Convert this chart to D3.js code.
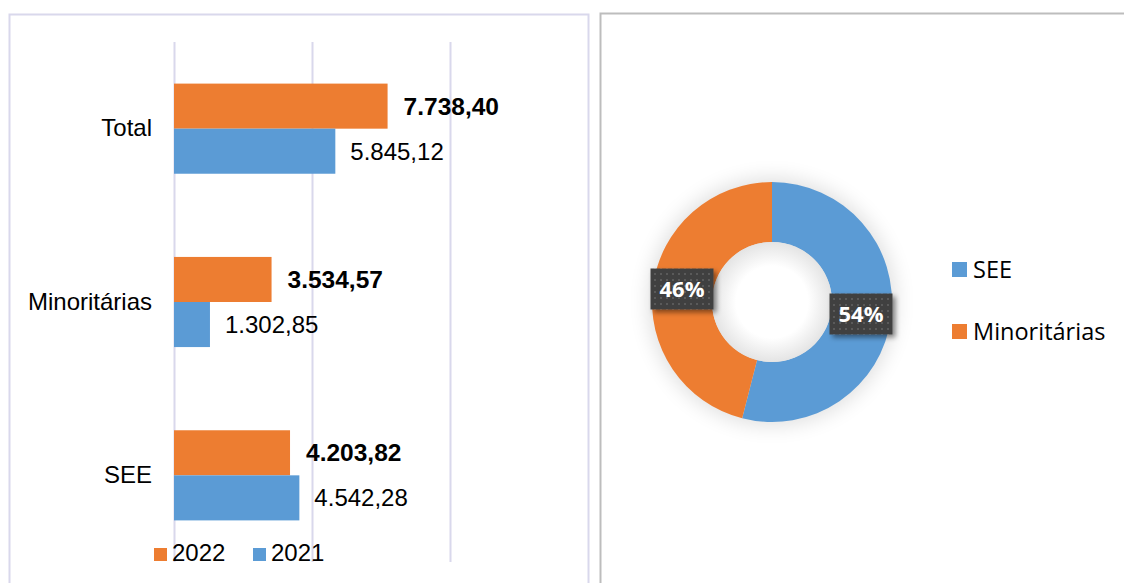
<!DOCTYPE html>
<html><head><meta charset="utf-8">
<script src="https://cdn.jsdelivr.net/npm/d3@7"></script>
<style>body{margin:0;background:#fff}svg{display:block}</style>
</head><body>
<svg id="c" width="1124" height="583"></svg>
<script>
const categories = ["Total", "Minoritárias", "SEE"];
const values2022 = [7738.40, 3534.57, 4203.82];
const values2021 = [5845.12, 1302.85, 4542.28];
const years = ["2022", "2021"];
const xTicks = [0, 5000, 10000];
const pieLabels = ["SEE", "Minoritárias"];
const pieValues = [54, 46];

const colors = {"2022": "#ed7d31", "2021": "#5b9bd5"};
const pieColors = ["#5b9bd5", "#ed7d31"];
const fmt = v => v.toLocaleString("de-DE", {minimumFractionDigits: 2, maximumFractionDigits: 2});
const FONT_L = "Liberation Sans, Arial, sans-serif";
const FONT_R = "Open Sans, Noto Sans, sans-serif";

const svg = d3.select("#c");
const defs = svg.append("defs");

// panel borders
svg.append("rect").attr("x", 9.5).attr("y", 14.5).attr("width", 579).attr("height", 600)
  .attr("fill", "none").attr("stroke", "#d9d8ec").attr("stroke-width", 2);
svg.append("rect").attr("x", 600.5).attr("y", 13.5).attr("width", 600).attr("height", 600)
  .attr("fill", "none").attr("stroke", "#bdbdbd").attr("stroke-width", 2);

// ---- bar chart ----
const x = d3.scaleLinear().domain([0, 10000]).range([174, 450]);
const y = d3.scaleBand().domain(categories).range([42, 562]).paddingInner(0.48).paddingOuter(0.24);
const sub = d3.scaleBand().domain(years).range([0, y.bandwidth()]);

const gAxis = svg.append("g").attr("transform", "translate(0,42)")
  .call(d3.axisTop(x).tickValues(xTicks).tickSize(-520).tickFormat(""));
gAxis.select(".domain").remove();
gAxis.selectAll(".tick line").attr("stroke", "#d9d8ec").attr("stroke-width", 2);

const rows = categories.map((c, i) => ({c, v22: values2022[i], v21: values2021[i]}));
const g = svg.append("g");
rows.forEach(r => {
  [["2022", r.v22, true], ["2021", r.v21, false]].forEach(([yr, v, bold]) => {
    const yy = y(r.c) + sub(yr);
    g.append("rect").attr("x", x(0)).attr("y", yy).attr("width", x(v) - x(0)).attr("height", sub.bandwidth())
      .attr("fill", colors[yr]);
    g.append("text").attr("x", x(v) + (bold ? 16 : 15)).attr("y", yy + sub.bandwidth() / 2)
      .attr("dy", "0.35em").attr("font-family", FONT_L)
      .attr("font-size", bold ? 24.5 : 24).attr("font-weight", bold ? "bold" : "normal").attr("fill", "#000")
      .text(fmt(v));
  });
});
const yAxisG = svg.append("g").attr("transform", "translate(174,0)")
  .call(d3.axisLeft(y).tickSize(0).tickPadding(22));
yAxisG.select(".domain").remove();
yAxisG.selectAll("text").attr("font-family", FONT_L).attr("font-size", 24).attr("fill", "#000");

// legend bars
const leg = svg.append("g");
[["2022", 154], ["2021", 253]].forEach(([yr, lx]) => {
  leg.append("rect").attr("x", lx).attr("y", 548).attr("width", 13).attr("height", 13).attr("fill", colors[yr]);
  leg.append("text").attr("x", lx + 18).attr("y", 561)
    .attr("font-family", FONT_L).attr("font-size", 24).attr("fill", "#000").text(yr);
});

// ---- donut ----
const glow = defs.append("filter").attr("id", "glow").attr("x", "-50%").attr("y", "-50%").attr("width", "200%").attr("height", "200%");
glow.append("feGaussianBlur").attr("stdDeviation", 10);
const inner = defs.append("radialGradient").attr("id", "hole");
inner.append("stop").attr("offset", "0.6").attr("stop-color", "#ffffff");
inner.append("stop").attr("offset", "1").attr("stop-color", "#e4e4e4");
const shadow = defs.append("filter").attr("id", "sh").attr("x", "-30%").attr("y", "-30%").attr("width", "170%").attr("height", "170%");
shadow.append("feDropShadow").attr("dx", 3).attr("dy", 3).attr("stdDeviation", 2.5).attr("flood-color", "#000").attr("flood-opacity", 0.45);
const pat = defs.append("pattern").attr("id", "dots").attr("width", 6).attr("height", 6).attr("patternUnits", "userSpaceOnUse");
pat.append("rect").attr("width", 6).attr("height", 6).attr("fill", "#3f3f3f");
pat.append("rect").attr("x", 2).attr("y", 2).attr("width", 2).attr("height", 2).attr("fill", "#5a5a5a");

const cx = 772, cy = 302, R = 120, r0 = 60;
const dg = svg.append("g").attr("transform", `translate(${cx},${cy})`);
dg.append("circle").attr("r", R + 4).attr("fill", "#000").attr("opacity", 0.12).attr("filter", "url(#glow)");
const pie = d3.pie().sort(null).value(d => d)(pieValues);
const arc = d3.arc().innerRadius(r0).outerRadius(R);
dg.selectAll("path.s").data(pie).join("path").attr("class", "s").attr("d", arc)
  .attr("fill", (d, i) => pieColors[i]);
dg.append("circle").attr("r", r0).attr("fill", "url(#hole)");

const labelPos = [[861, 314], [682, 289]];
pie.forEach((d, i) => {
  const [lx, ly] = labelPos[i];
  const lg = svg.append("g").attr("transform", `translate(${lx},${ly})`);
  lg.append("rect").attr("x", -31.5).attr("y", -20.5).attr("width", 63).attr("height", 41)
    .attr("fill", "url(#dots)").attr("filter", "url(#sh)");
  lg.append("text").attr("text-anchor", "middle").attr("dy", "0.36em")
    .attr("font-family", FONT_R).attr("font-weight", "bold")
    .attr("font-size", 22).attr("fill", "#fff").text(d.data + "%");
});

// donut legend
pieLabels.forEach((lab, i) => {
  const ly = 269.5 + i * 62;
  svg.append("rect").attr("x", 952).attr("y", ly - 7.5).attr("width", 15).attr("height", 15).attr("fill", pieColors[i]);
  svg.append("text").attr("x", 973).attr("y", ly).attr("dy", "0.35em")
    .attr("font-family", FONT_R).attr("font-size", 23.5).attr("fill", "#000").text(lab);
});
</script>
</body></html>
